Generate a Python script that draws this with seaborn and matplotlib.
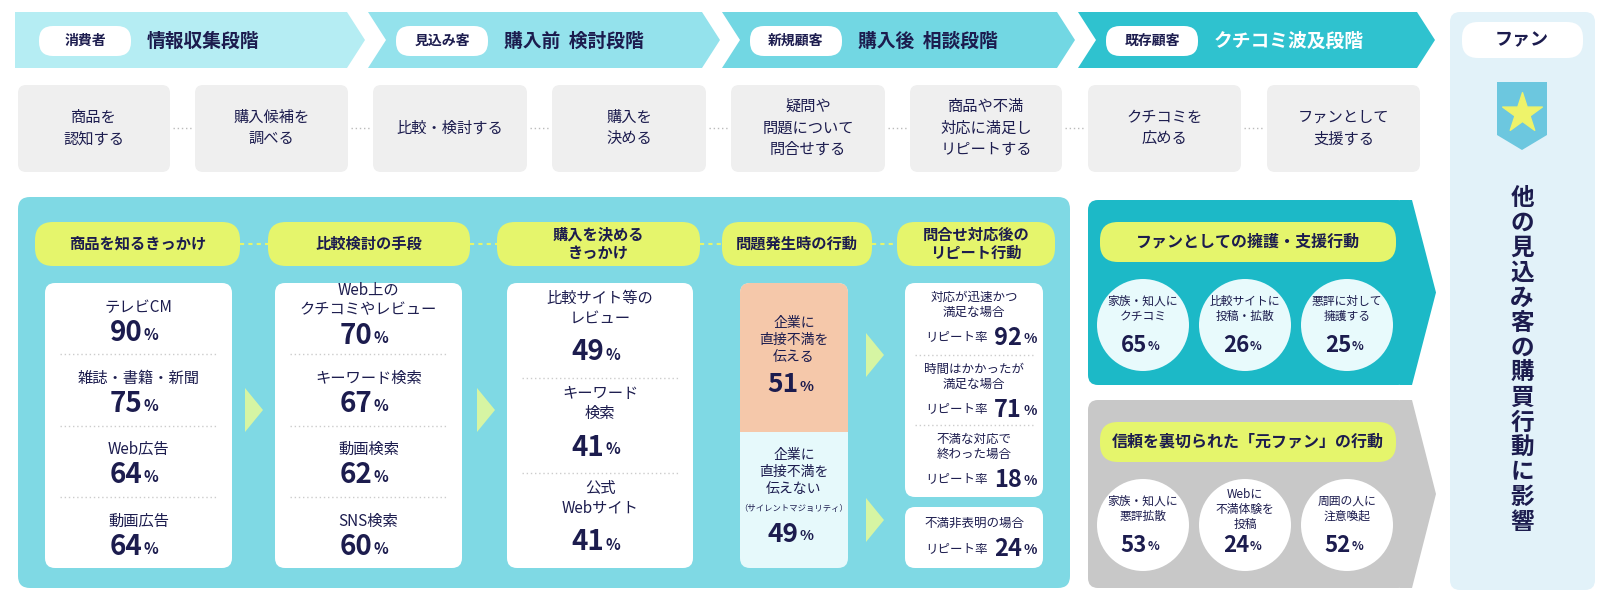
import matplotlib
matplotlib.use("Agg")
import matplotlib.pyplot as plt
import seaborn as sns
from matplotlib.patches import FancyBboxPatch, Polygon, Circle

sns.set_theme(style="white")
plt.rcParams["font.family"] = "Noto Sans CJK JP"

NAVY = "#1c1c4e"
stage_tags = ["消費者", "見込み客", "新規顧客", "既存顧客"]
stage_titles = ["情報収集段階", "購入前  検討段階", "購入後  相談段階", "クチコミ波及段階"]
actions = ["商品を\n認知する", "購入候補を\n調べる", "比較・検討する", "購入を\n決める",
           "疑問や\n問題について\n問合せする", "商品や不満\n対応に満足し\nリピートする", "クチコミを\n広める", "ファンとして\n支援する"]
headers = ["商品を知るきっかけ", "比較検討の手段", "購入を決める\nきっかけ", "問題発生時の行動", "問合せ対応後の\nリピート行動"]
col1_labels = ["テレビCM", "雑誌・書籍・新聞", "Web広告", "動画広告"]
col1_values = [90, 75, 64, 64]
col2_labels = ["Web上の\nクチコミやレビュー", "キーワード検索", "動画検索", "SNS検索"]
col2_values = [70, 67, 62, 60]
col3_labels = ["比較サイト等の\nレビュー", "キーワード\n検索", "公式\nWebサイト"]
col3_values = [49, 41, 41]
complaint_labels = ["企業に\n直接不満を\n伝える", "企業に\n直接不満を\n伝えない"]
complaint_values = [51, 49]
repeat_labels = ["対応が迅速かつ\n満足な場合", "時間はかかったが\n満足な場合", "不満な対応で\n終わった場合", "不満非表明の場合"]
repeat_values = [92, 71, 18, 24]
fan_title = "ファンとしての擁護・支援行動"
fan_labels = ["家族・知人に\nクチコミ", "比較サイトに\n投稿・拡散", "悪評に対して\n擁護する"]
fan_values = [65, 26, 25]
exfan_title = "信頼を裏切られた「元ファン」の行動"
exfan_labels = ["家族・知人に\n悪評拡散", "Webに\n不満体験を\n投稿", "周囲の人に\n注意喚起"]
exfan_values = [53, 24, 52]
influence = "他の見込み客の購買行動に影響"

fig = plt.figure(figsize=(16, 6.06), dpi=100)
ax = fig.add_axes([0, 0, 1, 1])
ax.set_xlim(0, 1600); ax.set_ylim(606, 0); ax.axis("off")

def rbox(x0, y0, x1, y1, fc, r=8, ec="none", lw=0, z=1):
    ax.add_patch(FancyBboxPatch((x0 + r, y0 + r), x1 - x0 - 2 * r, y1 - y0 - 2 * r,
                                boxstyle=f"round,pad={r}", fc=fc, ec=ec, lw=lw, zorder=z))

def pct(x, y, v, size=20, z=5):
    ax.text(x + 4, y, f"{v}", fontsize=size, fontweight="bold", color=NAVY, ha="right", va="center", zorder=z)
    ax.text(x + 5, y + 2, "%", fontsize=size * 0.55, fontweight="bold", color=NAVY, ha="left", va="center", zorder=z)

# top chevrons
segs = [(15, 365), (368, 720), (722, 1075), (1078, 1435)]
cols = ["#b5edf3", "#94e2ec", "#72d7e3", "#2fc2cf"]
for i, ((a, b), c) in enumerate(zip(segs, cols)):
    pts = [(a, 12), (b - 18, 12), (b, 40), (b - 18, 68), (a, 68)] if i == 0 else \
          [(a, 12), (b - 18, 12), (b, 40), (b - 18, 68), (a, 68), (a + 18, 40)]
    ax.add_patch(Polygon(pts, closed=True, fc=c, ec="none"))
    px = a + 28 if i else a + 24
    rbox(px, 26, px + 92, 56, "white", r=14)
    ax.text(px + 46, 41, stage_tags[i], fontsize=10, color=NAVY, fontweight="bold", ha="center", va="center")
    ax.text(px + 108, 41, stage_titles[i], fontsize=13.5, fontweight="bold",
            color="white" if i == 3 else NAVY, ha="left", va="center")

# fan column
rbox(1450, 12, 1595, 590, "#e2f2f9", r=10)
rbox(1462, 22, 1583, 58, "white", r=16)
ax.text(1522, 40, "ファン", fontsize=13, fontweight="bold", color=NAVY, ha="center", va="center")
ax.add_patch(Polygon([(1497, 82), (1547, 82), (1547, 135), (1522, 150), (1497, 135)], fc="#6cc7df", ec="none"))
ax.scatter([1522], [113], marker="*", s=900, color="#eef36a", zorder=3)
ax.text(1522, 360, "\n".join(influence), fontsize=17, fontweight="bold", color=NAVY,
        ha="center", va="center", linespacing=1.05)

# action boxes
bx = [(18, 170), (195, 348), (373, 527), (552, 706), (731, 885), (910, 1062), (1088, 1241), (1267, 1420)]
for i, (a, b) in enumerate(bx):
    rbox(a, 85, b, 172, "#efefef", r=8)
    ax.text((a + b) / 2, 128, actions[i], fontsize=11, color=NAVY, ha="center", va="center", linespacing=1.35)
    if i < len(bx) - 1:
        ax.plot([b + 3, bx[i + 1][0] - 3], [128, 128], ls=(0, (1, 2)), color="#bbbbbb", lw=1)

# main panel
rbox(18, 197, 1070, 588, "#7fd9e4", r=12)
hx = [(35, 240), (268, 470), (497, 700), (722, 872), (897, 1055)]
for i, (a, b) in enumerate(hx):
    rbox(a, 222, b, 266, "#e5f56c", r=18, z=2)
    ax.text((a + b) / 2, 244, headers[i], fontsize=11, fontweight="bold", color=NAVY, ha="center", va="center", zorder=3, linespacing=1.2)
    if i < len(hx) - 1:
        ax.plot([b, hx[i + 1][0]], [244, 244], ls=(0, (2, 2)), color="#e5f56c", lw=1.5, zorder=1)

def card(x0, x1, labels, values, y0=283, y1=568):
    rbox(x0, y0, x1, y1, "white", r=10, z=2)
    n = len(labels); h = (y1 - y0) / n
    for k, (l, v) in enumerate(zip(labels, values)):
        top = y0 + k * h
        cx = (x0 + x1) / 2
        nl = l.count("\n")
        ax.text(cx, top + h * 0.34 - nl * 7, l, fontsize=11, color=NAVY, ha="center", va="center", zorder=4, linespacing=1.2)
        pct(cx, top + h * 0.70 + nl * 3, v, size=20)
        if k < n - 1:
            ax.plot([x0 + 15, x1 - 15], [top + h, top + h], ls=(0, (1, 2)), color="#cccccc", lw=1, zorder=3)

card(45, 232, col1_labels, col1_values)
card(275, 462, col2_labels, col2_values)
card(507, 693, col3_labels, col3_values)

# complaint column
rbox(740, 283, 848, 568, "#e6f9fb", r=10, z=2)
ax.add_patch(FancyBboxPatch((750, 293), 88, 129, boxstyle="round,pad=10", fc="#f5c8aa", ec="none", zorder=2))
ax.add_patch(plt.Rectangle((740, 400), 108, 32, fc="#f5c8aa", ec="none", zorder=2))
ax.text(794, 340, complaint_labels[0], fontsize=10, color=NAVY, ha="center", va="center", zorder=4, linespacing=1.25)
pct(794, 385, complaint_values[0], size=19)
ax.text(794, 472, complaint_labels[1], fontsize=10, color=NAVY, ha="center", va="center", zorder=4, linespacing=1.25)
ax.text(794, 508, "（サイレントマジョリティ）", fontsize=6, color=NAVY, ha="center", va="center", zorder=4)
pct(794, 534, complaint_values[1], size=19)

# repeat cards
rbox(905, 283, 1043, 497, "white", r=10, z=2)
rbox(905, 507, 1043, 568, "white", r=10, z=2)
ys = [(283, 355), (355, 425), (425, 497), (507, 568)]
for k, ((a, b), l, v) in enumerate(zip(ys, repeat_labels, repeat_values)):
    if k < 3:
        ax.text(974, a + 22, l, fontsize=9, color=NAVY, ha="center", va="center", zorder=4, linespacing=1.2)
        yv = a + 55
    else:
        ax.text(974, a + 16, l, fontsize=9, color=NAVY, ha="center", va="center", zorder=4)
        yv = a + 42
    ax.text(988, yv, "リピート率", fontsize=9, color=NAVY, ha="right", va="center", zorder=4)
    ax.text(1022, yv, f"{v}", fontsize=17, fontweight="bold", color=NAVY, ha="right", va="center", zorder=4)
    ax.text(1024, yv + 1, "%", fontsize=10, fontweight="bold", color=NAVY, ha="left", va="center", zorder=4)
    if 0 < k < 3:
        ax.plot([915, 1033], [a, a], ls=(0, (1, 2)), color="#cccccc", lw=1, zorder=3)

# green arrows
for (x, y) in [(245, 410), (477, 410), (866, 355), (866, 520)]:
    ax.add_patch(Polygon([(x, y - 22), (x + 18, y), (x, y + 22)], fc="#d6f5a3", ec="none", zorder=3))

# right panels
def rpanel(y0, y1, fc, title, labels, values, ccol):
    ax.add_patch(FancyBboxPatch((1098, y0 + 10), 300, y1 - y0 - 20, boxstyle="round,pad=10", fc=fc, ec="none"))
    ax.add_patch(Polygon([(1400, y0), (1412, y0), (1436, (y0 + y1) / 2), (1412, y1), (1400, y1)], fc=fc, ec="none"))
    rbox(1100, y0 + 22, 1396, y0 + 62, "#e5f56c", r=18, z=2)
    ax.text(1248, y0 + 42, title, fontsize=11.5, fontweight="bold", color=NAVY, ha="center", va="center", zorder=3)
    for k, (cx, l, v) in enumerate(zip([1143, 1245, 1347], labels, values)):
        cy = y0 + 125
        ax.add_patch(Circle((cx, cy), 46, fc=ccol, ec="none", zorder=2))
        ax.text(cx, cy - 16, l, fontsize=8.5, color=NAVY, ha="center", va="center", zorder=4, linespacing=1.2)
        pct(cx, cy + 20, v, size=16)

rpanel(200, 385, "#1cb9c7", fan_title, fan_labels, fan_values, "#e8fafc")
rpanel(400, 588, "#c8c8c8", exfan_title, exfan_labels, exfan_values, "white")

fig.savefig("out.png", dpi=100, facecolor="white")
